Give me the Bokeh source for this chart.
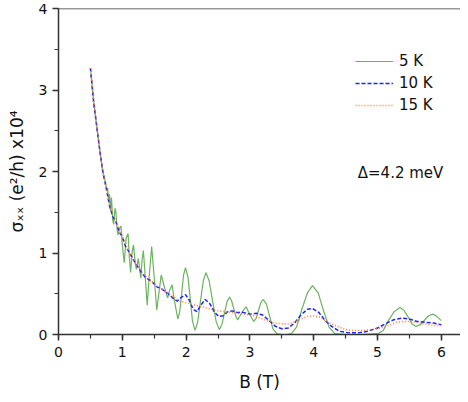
from bokeh.plotting import figure
from bokeh.models import Range1d, SingleIntervalTicker, Legend, LegendItem, Label, Span
from bokeh.embed import file_html
from bokeh.resources import INLINE

# B (T) and sigma_xx (e^2/h x10^4) for each temperature
b_5k = [0.50, 0.55, 0.60, 0.65, 0.69, 0.71, 0.725, 0.74, 0.755, 0.77, 0.785, 0.80, 0.815, 0.83,
        0.85, 0.865, 0.885, 0.90, 0.92, 0.935, 0.955, 0.98, 1.00, 1.03, 1.06, 1.09, 1.11, 1.13,
        1.155, 1.175, 1.20, 1.22, 1.25, 1.27, 1.29, 1.31, 1.33, 1.36, 1.39, 1.42, 1.46, 1.50,
        1.54, 1.575, 1.61, 1.66, 1.71, 1.745, 1.78, 1.82, 1.87, 1.90, 1.93, 1.96, 1.99, 2.03,
        2.065, 2.10, 2.14, 2.18, 2.225, 2.27, 2.31, 2.36, 2.415, 2.47, 2.52, 2.56, 2.60, 2.64,
        2.68, 2.71, 2.745, 2.78, 2.81, 2.88, 2.94, 3.00, 3.06, 3.10, 3.135, 3.17, 3.21, 3.26,
        3.31, 3.36, 3.42, 3.50, 3.58, 3.65, 3.73, 3.81, 3.90, 3.98, 4.07, 4.15, 4.24, 4.33,
        4.50, 4.75, 5.00, 5.09, 5.17, 5.26, 5.35, 5.41, 5.475, 5.54, 5.60, 5.67, 5.735, 5.80,
        5.87, 5.93, 6.00]
s_5k = [3.27, 2.86, 2.55, 2.24, 2.02, 1.95, 1.90, 1.86, 1.76, 1.80, 1.64, 1.72, 1.52, 1.68,
        1.40, 1.35, 1.55, 1.50, 1.28, 1.22, 1.30, 1.33, 1.10, 0.88, 1.18, 1.24, 0.95, 0.76,
        1.02, 1.10, 0.90, 0.80, 0.93, 0.82, 0.69, 0.92, 1.03, 0.70, 0.36, 0.70, 1.08, 0.70,
        0.30, 0.52, 0.73, 0.58, 0.45, 0.55, 0.61, 0.40, 0.19, 0.28, 0.50, 0.73, 0.82, 0.70,
        0.44, 0.16, 0.05, 0.15, 0.41, 0.66, 0.76, 0.66, 0.41, 0.16, 0.06, 0.12, 0.26, 0.40,
        0.46, 0.42, 0.32, 0.22, 0.18, 0.28, 0.34, 0.24, 0.16, 0.20, 0.30, 0.39, 0.43, 0.37,
        0.22, 0.07, 0.01, 0.00, 0.00, 0.01, 0.09, 0.30, 0.51, 0.60, 0.51, 0.30, 0.09, 0.01,
        0.00, 0.00, 0.01, 0.05, 0.17, 0.28, 0.33, 0.30, 0.22, 0.13, 0.10, 0.12, 0.175, 0.23,
        0.25, 0.22, 0.17]

b_10k = [0.50, 0.55, 0.60, 0.65, 0.70, 0.75, 0.80, 0.85, 0.90, 0.95, 1.00, 1.05, 1.10, 1.15,
         1.20, 1.25, 1.30, 1.35, 1.40, 1.45, 1.50, 1.55, 1.60, 1.65, 1.70, 1.75, 1.80, 1.86,
         1.93, 1.99, 2.05, 2.11, 2.17, 2.23, 2.30, 2.37, 2.44, 2.51, 2.58, 2.65, 2.72, 2.80,
         2.90, 3.00, 3.10, 3.20, 3.30, 3.40, 3.50, 3.60, 3.70, 3.80, 3.90, 3.98, 4.08, 4.18,
         4.28, 4.40, 4.55, 4.70, 4.85, 5.00, 5.12, 5.25, 5.38, 5.50, 5.62, 5.75, 5.88, 6.00]
s_10k = [3.27, 2.86, 2.55, 2.24, 1.97, 1.79, 1.58, 1.45, 1.38, 1.26, 1.20, 1.08, 1.02, 0.95,
         0.88, 0.82, 0.76, 0.71, 0.68, 0.66, 0.62, 0.58, 0.57, 0.54, 0.51, 0.48, 0.44, 0.41,
         0.46, 0.49, 0.42, 0.31, 0.28, 0.36, 0.43, 0.38, 0.28, 0.22, 0.23, 0.28, 0.29, 0.27,
         0.27, 0.25, 0.26, 0.24, 0.17, 0.10, 0.07, 0.08, 0.14, 0.24, 0.31, 0.32, 0.27, 0.17,
         0.10, 0.04, 0.02, 0.02, 0.04, 0.08, 0.13, 0.18, 0.20, 0.19, 0.16, 0.15, 0.14, 0.12]

b_15k = [0.50, 0.60, 0.70, 0.80, 0.90, 1.00, 1.10, 1.20, 1.30, 1.40, 1.50, 1.60, 1.70, 1.80,
         1.90, 2.00, 2.10, 2.20, 2.30, 2.40, 2.50, 2.60, 2.70, 2.80, 2.90, 3.00, 3.10, 3.20,
         3.30, 3.40, 3.50, 3.60, 3.70, 3.80, 3.90, 4.00, 4.10, 4.20, 4.30, 4.40, 4.50, 4.60,
         4.70, 4.80, 4.90, 5.00, 5.10, 5.20, 5.30, 5.40, 5.50, 5.60, 5.70, 5.80, 5.90, 6.00]
s_15k = [3.27, 2.55, 1.97, 1.58, 1.38, 1.20, 1.02, 0.88, 0.77, 0.68, 0.62, 0.56, 0.51, 0.46,
         0.41, 0.39, 0.37, 0.35, 0.33, 0.31, 0.29, 0.28, 0.27, 0.26, 0.25, 0.24, 0.22, 0.19,
         0.16, 0.14, 0.13, 0.13, 0.15, 0.19, 0.22, 0.23, 0.21, 0.16, 0.12, 0.09, 0.06, 0.05,
         0.05, 0.05, 0.06, 0.07, 0.09, 0.12, 0.15, 0.16, 0.16, 0.15, 0.13, 0.12, 0.11, 0.11]

series_labels = ["5 K", "10 K", "15 K"]
annotation_text = "\u0394=4.2 meV"

FONT = "DejaVu Sans"

p = figure(width=460, height=394, output_backend="svg", toolbar_location=None,
           x_range=Range1d(0, 6.3), y_range=Range1d(0, 4),
           min_border_left=58, min_border_right=0, min_border_top=8, min_border_bottom=49,
           x_axis_label="B (T)", y_axis_label="\u03c3\u2093\u2093 (e\u00b2/h) x10\u2074")
p.background_fill_color = "white"
p.border_fill_color = "white"
p.outline_line_color = None
p.xgrid.visible = False
p.ygrid.visible = False

for ax in (p.xaxis[0], p.yaxis[0]):
    ax.ticker = SingleIntervalTicker(interval=1, num_minor_ticks=2)
    ax.axis_line_color = "#333333"
    ax.axis_line_width = 1.5
    ax.major_tick_line_color = "#333333"
    ax.major_tick_line_width = 1.5
    ax.minor_tick_line_color = "#333333"
    ax.minor_tick_line_width = 1.2
    ax.major_tick_in = 0
    ax.major_tick_out = 6
    ax.minor_tick_in = 0
    ax.minor_tick_out = 4
    ax.major_label_text_font = FONT
    ax.major_label_text_font_size = "14px"
    ax.major_label_text_color = "#111111"
    ax.axis_label_text_font = FONT
    ax.axis_label_text_font_style = "normal"
    ax.axis_label_text_font_size = "17px"
    ax.axis_label_text_color = "#111111"

p.xaxis[0].major_label_standoff = 6
p.xaxis[0].axis_label_standoff = 12
p.yaxis[0].major_label_standoff = 5
p.yaxis[0].axis_label_standoff = 9

p.add_layout(Span(location=4, dimension="width", line_color="#333333", line_width=1.5))

r5 = p.line(b_5k, s_5k, line_color="#6cb35e", line_width=1.2)
r10 = p.line(b_10k, s_10k, line_color="#2323ff", line_width=1.5, line_dash="4 2")
r15 = p.line(b_15k, s_15k, line_color="#ff8040", line_width=1.6, line_dash="1 2")

legend = Legend(items=[LegendItem(label=series_labels[0], renderers=[r5]),
                       LegendItem(label=series_labels[1], renderers=[r10]),
                       LegendItem(label=series_labels[2], renderers=[r15])],
                location=(297, 219), padding=0, margin=0, spacing=2,
                glyph_width=38, glyph_height=20, label_height=20, label_standoff=6,
                label_text_font=FONT, label_text_font_size="15px",
                label_text_color="#111111",
                border_line_color=None, background_fill_alpha=0)
p.add_layout(legend)

p.add_layout(Label(x=4.69, y=1.98, text=annotation_text, text_font=FONT,
                   text_font_size="15px", text_baseline="middle", text_color="#111111"))

open("out.html", "w").write(file_html(p, INLINE))
